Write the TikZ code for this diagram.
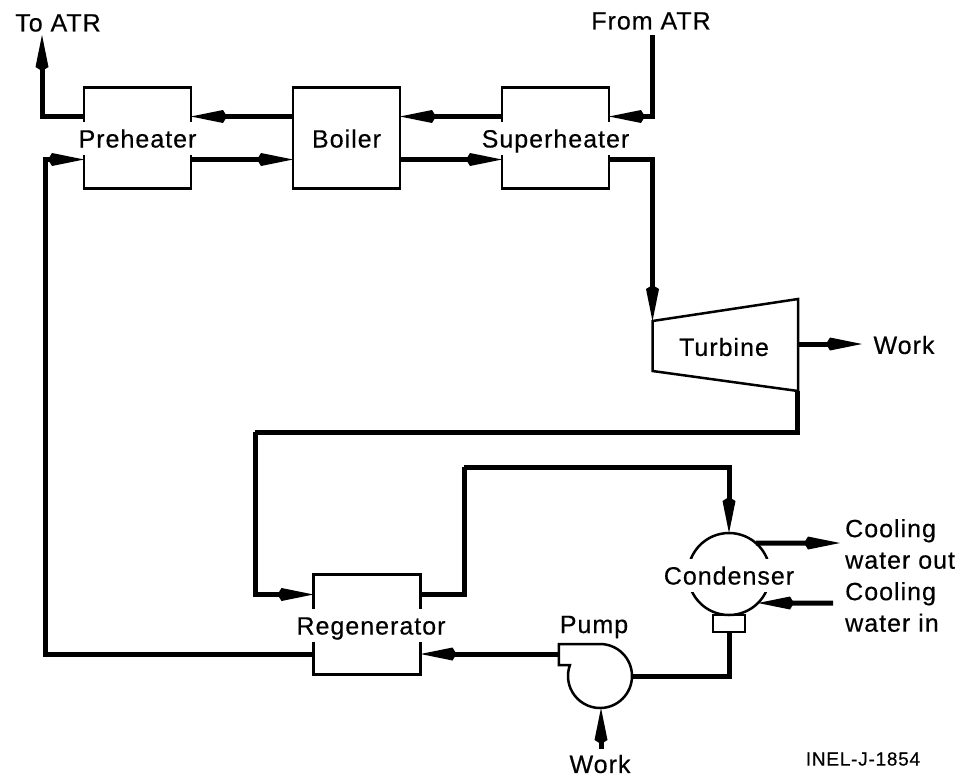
\documentclass[tikz,border=0pt]{standalone}
\usepackage{fontspec}
\setmainfont[LetterSpace=4,FakeBold=0.4]{Liberation Sans}
\usetikzlibrary{arrows.meta,positioning}

\begin{document}
\begin{tikzpicture}[x=1pt,y=1pt, node distance=102pt, every node/.style={font=\fontsize{25}{31.5}\selectfont}, box/.style={draw,line width=2.5pt,minimum width=107pt,minimum height=101pt,outer sep=0pt}, tag/.style={fill=white,inner xsep=2pt,inner ysep=4pt,text height=22pt,text depth=3pt}, wall/.style={line width=2.5pt}, pipe/.style={line width=5pt}, arr/.style={pipe,-{Kite[length=36pt,width=13pt,inset=4pt]}}]
\useasboundingbox (0,0) rectangle (971,-777);
\node[box] at (137.5,-138) (preheater) {};
\node[box,right=of preheater] (boiler) {};
\node[box,right=of boiler] (superheater) {};
\node[box,below right=386pt and 122.5pt of preheater,minimum height=100pt] (regenerator) {};
\node[circle,draw,line width=2.5pt,minimum size=82pt,inner sep=0pt,outer sep=0pt] at (729,-574) (condenser) {};
\node[draw,line width=2.5pt,minimum width=32pt,minimum height=17pt,outer sep=0pt,inner sep=0pt,below=0pt of condenser] (sump) {};
\node[circle,minimum size=64pt,inner sep=0pt,outer sep=0pt] at (600,-676) (pump) {};
\draw[wall] (pump.90) arc[start angle=90,end angle=-200,radius=32] -- ++(-11,0) -- ++(0,21) -- cycle;
\coordinate (tbnw) at (652.5,-321);
\coordinate (tbne) at (798,-299);
\coordinate (tbse) at (798,-391);
\coordinate (tbsw) at (652.5,-371);
\draw[wall] (tbnw) -- (tbne) -- (tbse) -- (tbsw) -- cycle;
% labels
\node[tag] at (preheater) (preheatertag) {Preheater};
\node[tag] at (boiler) (boilertag) {Boiler};
\node[tag] at (superheater) (superheatertag) {Superheater};
\node[tag] at (371,-625) (regeneratortag) {Regenerator};
\node[tag] at (729,-575) (condensertag) {Condenser};
\node at (724,-347) (turbine) {Turbine};
\node at (58,-23) (toatr) {To ATR};
\node at (651,-21) (fromatr) {From ATR};
\node at (904,-345) (workout) {Work};
\node at (600,-764) (workin) {Work};
\node at (594,-627) (pumptag) {Pump};
\node[align=left,anchor=west,inner sep=0pt] at (845,-544) (coolout) {Cooling\\water out};
\node[align=left,anchor=west,inner sep=0pt] at (845,-607) (coolin) {Cooling\\water in};
\node[font=\fontsize{19}{23}\selectfont] at (863,-759) (inel) {INEL-J-1854};
% free ends and bends
\coordinate (fromend) at (652,-35);
\coordinate (toend) at (42,-35);
\coordinate (leftbend) at (45,-400);
\coordinate (topbend) at (255,-432);
\coordinate (highbend) at (464,-467);
\coordinate (shaft) at (798,-344);
\coordinate (shafttip) at (862,-344);
\coordinate (pumpout) at (559,-654);
\coordinate (pumpshaft) at (601,-749);
\coordinate (pumptip) at (601,-708);
\coordinate (outtip) at (840,-543);
\coordinate (inend) at (833,-603);
% flow
\draw[arr] (fromend) |- ([yshift=21.5pt]superheater.east);
\draw[arr] ([yshift=21.5pt]superheater.west) -- ([yshift=21.5pt]boiler.east);
\draw[arr] ([yshift=21.5pt]boiler.west) -- ([yshift=21.5pt]preheater.east);
\draw[arr] ([yshift=21.5pt]preheater.west) -| (toend);
\draw[arr] ([yshift=-21.5pt]preheater.east) -- ([yshift=-21.5pt]boiler.west);
\draw[arr] ([yshift=-21.5pt]boiler.east) -- ([yshift=-21.5pt]superheater.west);
\draw[arr] ([yshift=-21.5pt]superheater.east) -| (tbnw);
\draw[arr] (shaft) -- (shafttip);
\draw[pipe] (tbse) ++(-1,0) -- ++(0,-41) -| (topbend);
\draw[arr] (topbend) |- ([yshift=30pt]regenerator.west);
\draw[pipe] ([yshift=30pt]regenerator.east) -| (highbend);
\draw[arr] (highbend) -| (condenser.north);
\draw[arr] (condenser.49) -- (outtip);
\draw[arr] (inend) -- (condenser.-45);
\draw[pipe] (sump.south) |- (pump.east);
\draw[arr] (pumpout) -- (pumpout -| regenerator.east);
\draw[arr] (pumpshaft) -- (pumptip);
\draw[pipe] (regenerator.west |- pumpout) -| (leftbend);
\draw[arr] (leftbend) |- ([yshift=-21.5pt]preheater.west);
\end{tikzpicture}
\end{document}
